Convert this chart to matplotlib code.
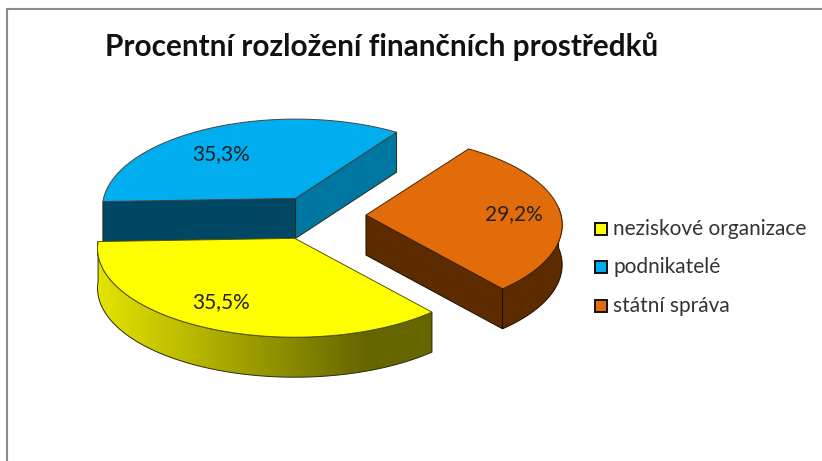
#!/usr/bin/env python3

import numpy as np
import matplotlib
matplotlib.use('Agg')
import matplotlib.pyplot as plt
from matplotlib.colors import LinearSegmentedColormap
from matplotlib.patches import Polygon, Rectangle

title = 'Procentní rozložení finančních prostředků'
categories = ['neziskové organizace', 'podnikatelé', 'státní správa']
values = [35.5, 35.3, 29.2]
top_colors = ['#FFFF00', '#00AEEF', '#E26B0A']
label_pos = [(221, 302), (221, 154), (514, 214)]
legend_y = [229, 267, 306]

# pie geometry in pixels, y runs downwards
cx, cy = 317, 216
slice_rx = [196, 192, 195]  # nearer slices look a bit wider
ry = 88
persp = 0.11
explode = 0.25
depth = 40
edge = '#2a2a10'

plt.rcParams['font.family'] = ['Lato', 'DejaVu Sans']

fig = plt.figure(figsize=(8.22, 4.61), dpi=100)
ax = fig.add_axes([0, 0, 1, 1])
ax.set_axis_off()


def project(deg, rx):
    t = np.radians(deg)
    f = 1 / (1 + persp * np.sin(t))
    return rx * np.cos(t) * f, -ry * np.sin(t) * f


def wedge(start, sweep, rx):
    bis = start + sweep / 2
    ox, oy = project(bis, 197)
    apex = np.array([cx + ox * explode, cy + oy * explode])
    angles = np.linspace(start, start + sweep, 120)
    xs, ys = project(angles, rx)
    return apex, np.column_stack([apex[0] + xs, apex[1] + ys]), angles


def extrude(pts):
    low = pts + [0, depth]
    return np.vstack([pts, low[::-1]])


# sweeps come from the values, blue starts at the back right
sweeps = [v / sum(values) * 360 for v in values]
start_blue = 55
start_yellow = start_blue + sweeps[1]
start_orange = start_yellow + sweeps[0]

# blue, back slice
apex, arc, ang = wedge(start_blue, sweeps[1], slice_rx[1])
ax.add_patch(Polygon(extrude(np.array([arc[0], apex])), fc='#0077A3', ec=edge, lw=0.7))
ax.add_patch(Polygon(extrude(np.array([apex, arc[-1]])), fc='#004766', ec=edge, lw=0.7))
ax.add_patch(Polygon(np.vstack([apex, arc]), fc=top_colors[1], ec='#444444', lw=0.7))

# orange, right slice
apex, arc, ang = wedge(start_orange, sweeps[2], slice_rx[2])
ax.add_patch(Polygon(extrude(np.array([apex, arc[0]])), fc='#5C2B00', ec='#1c0d00', lw=0.7))
front = ang % 360 > 180
ax.add_patch(Polygon(extrude(arc[front | (ang % 360 < 5)]), fc='#5C2B00', ec='#1c0d00', lw=0.7))
ax.add_patch(Polygon(np.vstack([apex, arc]), fc=top_colors[2], ec='#4a2500', lw=0.7))

# yellow, front slice with shaded rim
apex, arc, ang = wedge(start_yellow, sweeps[0], slice_rx[0])
rim = Polygon(extrude(arc), fc='none', ec=edge, lw=0.7, zorder=3)
ax.add_patch(rim)
shade = LinearSegmentedColormap.from_list('rim', [(0, '#E4E400'), (0.8, '#666600'), (1, '#666600')])
img = ax.imshow(np.linspace(0, 1, 256).reshape(1, -1), cmap=shade, aspect='auto',
                extent=[arc[:, 0].min(), arc[:, 0].max(), 400, 200], zorder=2)
img.set_clip_path(rim)
ax.add_patch(Polygon(np.vstack([apex, arc]), fc=top_colors[0], ec='#55550f', lw=0.7, zorder=4))

for v, pos in zip(values, label_pos):
    ax.text(pos[0], pos[1], f'{v:.1f}%'.replace('.', ','), fontsize=15, color='#222222',
            ha='center', va='center', zorder=5)

for name, color, y in zip(categories, top_colors, legend_y):
    ax.add_patch(Rectangle((595, y - 6), 12, 12, fc=color, ec='#111111', lw=1.4))
    ax.text(613, y, name, fontsize=15, color='#333333', ha='left', va='center')

ax.text(105, 47, title, fontsize=21.4, fontweight='bold', color='#111111', ha='left', va='center')

# chart frame, only left and top show
ax.plot([7, 7, 822], [461, 9, 9], color='#8a8a8a', lw=1.5, solid_joinstyle='miter')

ax.set_xlim(0, 822)
ax.set_ylim(461, 0)

fig.savefig('out.png', dpi=100)
